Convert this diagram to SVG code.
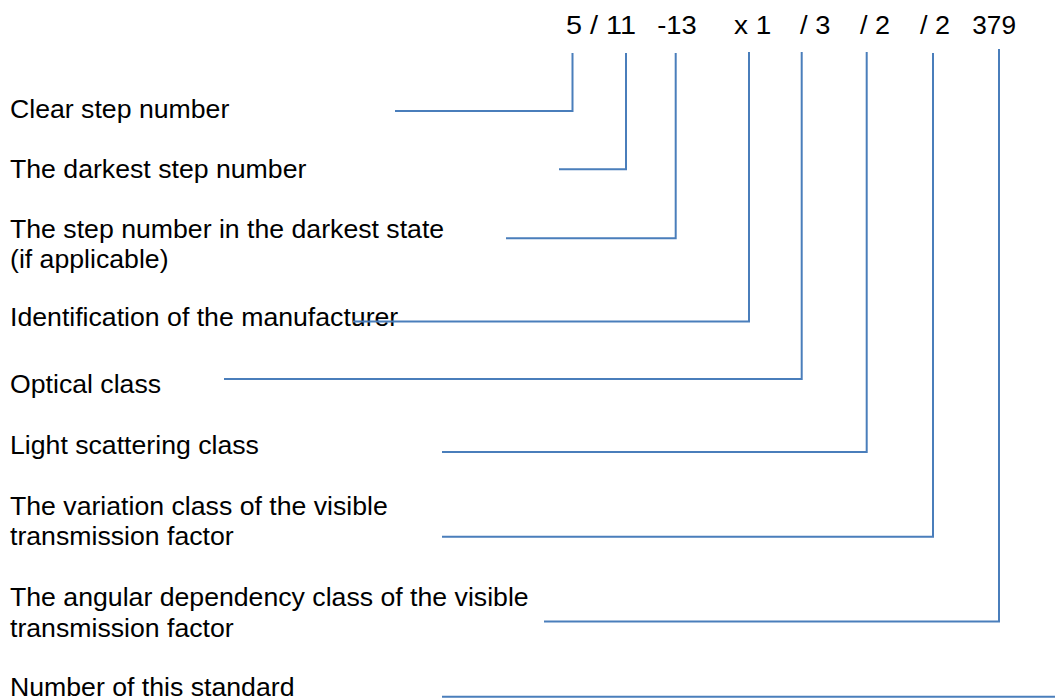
<svg xmlns="http://www.w3.org/2000/svg" width="1055" height="700" viewBox="0 0 1055 700">
<style>
.t{font-family:"Liberation Sans",Arial,sans-serif;font-size:26.67px;fill:#000}
.n{font-family:"Liberation Sans",Arial,sans-serif;font-size:25px;fill:#000}
.c{fill:none;stroke:#4a7ebb;stroke-width:2}
</style>
<rect width="1055" height="700" fill="#fff"/>
<g id="code">
<text class="n" x="566" y="33.5" textLength="70" lengthAdjust="spacingAndGlyphs">5 / 11</text>
<text class="n" x="657.2" y="33.5" textLength="39.5" lengthAdjust="spacingAndGlyphs">-13</text>
<text class="n" x="734" y="33.5" textLength="37.3" lengthAdjust="spacingAndGlyphs">x 1</text>
<text class="n" x="800" y="33.5" textLength="30.3" lengthAdjust="spacingAndGlyphs">/ 3</text>
<text class="n" x="860" y="33.5" textLength="30" lengthAdjust="spacingAndGlyphs">/ 2</text>
<text class="n" x="920" y="33.5" textLength="30" lengthAdjust="spacingAndGlyphs">/ 2</text>
<text class="n" x="972.3" y="33.5" textLength="43.7" lengthAdjust="spacingAndGlyphs">379</text>
</g>
<g id="label-clear"><text class="t" x="10" y="118">Clear step number</text></g>
<g id="label-darkest"><text class="t" x="10" y="178.3">The darkest step number</text></g>
<g id="label-darkstate"><text class="t" x="10" y="237.5">The step number in the darkest state</text><text class="t" x="10" y="268.2">(if applicable)</text></g>
<g id="label-manufacturer"><text class="t" x="10" y="325.5">Identification of the manufacturer</text></g>
<g id="label-optical"><text class="t" x="10" y="393">Optical class</text></g>
<g id="label-scatter"><text class="t" x="10" y="454">Light scattering class</text></g>
<g id="label-variation"><text class="t" x="10" y="514.5">The variation class of the visible</text><text class="t" x="10" y="545.2">transmission factor</text></g>
<g id="label-angular"><text class="t" x="10" y="606">The angular dependency class of the visible</text><text class="t" x="10" y="636.7">transmission factor</text></g>
<g id="label-standard"><text class="t" x="10" y="695.5">Number of this standard</text></g>
<g id="connectors">
<polyline class="c" points="395,111 572.5,111 572.5,53"/>
<polyline class="c" points="559,169.3 626,169.3 626,53"/>
<polyline class="c" points="506,238.3 675.7,238.3 675.7,53"/>
<polyline class="c" points="353,321.5 749,321.5 749,52"/>
<polyline class="c" points="224,379 801.7,379 801.7,52"/>
<polyline class="c" points="442,452 866.7,452 866.7,52"/>
<polyline class="c" points="442,536.7 933,536.7 933,53"/>
<polyline class="c" points="544,621.5 999,621.5 999,49"/>
<polyline class="c" points="442,696.7 1056,696.7"/>
</g>
</svg>
